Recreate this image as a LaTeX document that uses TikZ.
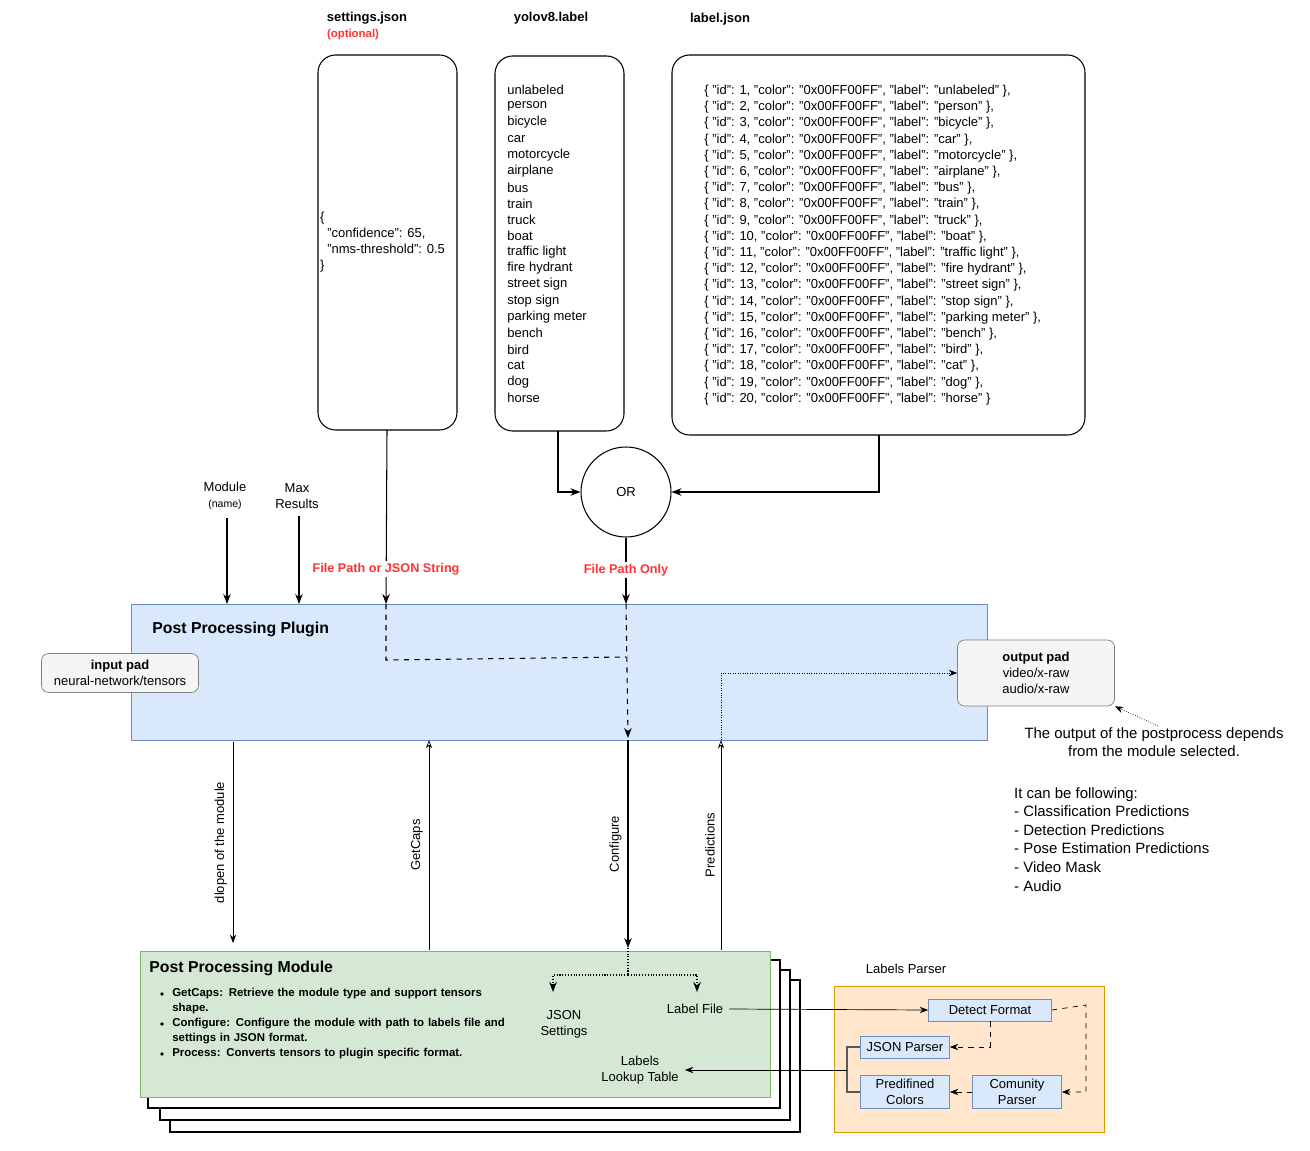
\documentclass[tikz,border=0pt]{standalone}
\usepackage{fontspec}
\setmainfont{Liberation Sans}
\usetikzlibrary{positioning, arrows.meta, backgrounds}

\definecolor{plugblue}{HTML}{DAE8FC}
\definecolor{plugedge}{HTML}{6C8EBF}
\definecolor{modgreen}{HTML}{D5E8D4}
\definecolor{modedge}{HTML}{82B366}
\definecolor{parsefill}{HTML}{FFE6CC}
\definecolor{parseedge}{HTML}{D79B00}
\definecolor{padfill}{HTML}{F5F5F5}
\definecolor{warnred}{HTML}{FF3333}

\begin{document}
\begin{tikzpicture}[x=0.02cm, y=-0.02cm, font=\fontsize{7.4}{9}\selectfont]
\tikzset{filebox/.style =
        {
            draw,
            rounded corners=10pt,
            semithick
        }
}

\tikzset{pad/.style =
        {
            draw=gray,
            fill=padfill,
            rounded corners=4pt,
            align=center,
            inner sep=0pt
        }
}

\tikzset{parser/.style =
        {
            draw=plugedge,
            fill=plugblue,
            align=center,
            inner sep=0pt
        }
}

\tikzset{flow/.style = {-Stealth, semithick}}
\tikzset{call/.style = {-{Stealth[open]}, thin}}
\tikzset{dotflow/.style = {-Stealth, densely dotted, semithick}}
\tikzset{dashflow/.style = {dashed, semithick}}
\tikzset{warn/.style = {text=warnred, font=\fontsize{7.2}{9}\selectfont\bfseries}}
\tikzset{title/.style = {font=\fontsize{7.4}{9}\selectfont\bfseries}}
\tikzset{bullet/.style = {anchor=north west, text width=6.9cm, align=left, inner sep=0pt,
        font=\fontsize{6.5}{8.4}\selectfont\bfseries}}

\useasboundingbox (0,0) rectangle (1310,1151);

% input files
\node[title] at (367,18) {settings.json};
\node[warn, font=\fontsize{6.5}{8}\selectfont\bfseries] at (353,35) {(optional)};
\node[title] at (551,18) {yolov8.label};
\node[title] at (720,19) {label.json};

\draw[filebox] (318,55) rectangle (457,430);
\draw[filebox] (495,56) rectangle (624,431);
\draw[filebox] (672,55) rectangle (1085,435);

\node[anchor=west, align=left, inner sep=1pt] (settings) at (318,242)
    {\{\\\ \ "confidence": 65,\\\ \ "nms-threshold": 0.5\\\}};

\foreach \name [count=\i] in {unlabeled, person, bicycle, car, motorcycle,
        airplane, bus, train, truck, boat, traffic light, fire hydrant,
        street sign, stop sign, parking meter, bench, bird, cat, dog}
    {
        \node[anchor=west, inner sep=0pt] at (507,74+16.2*\i) {\name};
        \node[anchor=west, inner sep=0pt] at (704,75+16.2*\i)
            {\{ "id": \i, "color": "0x00FF00FF", "label": "\name" \},};
    }
\node[anchor=west, inner sep=0pt] at (507,398) {horse};
\node[anchor=west, inner sep=0pt] at (704,399)
    {\{ "id": 20, "color": "0x00FF00FF", "label": "horse" \}};

\node[draw, circle, minimum size=1.8cm, semithick] (or) at (626,492) {OR};

\draw[flow] (558,431) |- (or.west);
\draw[flow] (879,435) |- (or.east);

% plugin
\node[draw=plugedge, fill=plugblue, minimum width=17.12cm, minimum height=2.72cm,
      inner sep=0pt] (plugin) at (559,672) {};
\node[anchor=west, inner sep=0pt, font=\fontsize{9}{11}\selectfont\bfseries] at (152,629)
    {Post Processing Plugin};

\node[pad, minimum width=3.14cm, minimum height=0.78cm] (inpad) at (120,673)
    {\textbf{input pad}\\neural-network/tensors};
\node[pad, minimum width=3.14cm, minimum height=1.32cm] (outpad) at (1036,673)
    {\textbf{output pad}\\video/x-raw\\audio/x-raw};

\node[align=center] (module) at (225,496)
    {Module\\{\fontsize{6}{7}\selectfont (name)}};
\node[align=center] (maxres) at (297,496) {Max\\Results};
\draw[flow] (227,518) -- (227,604);
\draw[flow] (299,516) -- (299,604);

\coordinate (setin) at (386,604);
\coordinate (orin) at (626,604);
\draw[flow] (387,430) -- (setin);
\draw[flow] (or.south) -- (orin);
\node[warn, fill=white, inner sep=1pt] at (386,569) {File Path or JSON String};
\node[warn, fill=white, inner sep=1pt] at (626,570) {File Path Only};

\draw[dashflow] (setin) -- (386,660) -- (626,657);
\draw[dashflow, -Stealth] (orin) -- (628,738);

% module stack
\draw[semithick, fill=white] (170,980) rectangle (800,1132);
\draw[semithick, fill=white] (160,970) rectangle (790,1120);
\draw[semithick, fill=white] (148,960) rectangle (780,1108);
\node[draw=modedge, fill=modgreen, minimum width=12.6cm, minimum height=2.92cm,
      inner sep=0pt] (ppm) at (455,1024) {};
\node[anchor=west, inner sep=0pt, font=\fontsize{9}{11}\selectfont\bfseries] at (149,968)
    {Post Processing Module};
\foreach \y / \txt in
    {988/GetCaps: Retrieve the module type and support tensors shape.,
     1018/Configure: Configure the module with path to labels file and settings in JSON format.,
     1048/Process: Converts tensors to plugin specific format.}
    {
        \fill (162,\y+6) circle [radius=1.8];
        \node[bullet] at (172,\y) {\txt};
    }

\node[align=center] (jsonset) at (564,1024) {JSON\\Settings};
\node (labelfile) at (695,1009) {Label File};
\node[align=center] (lookup) at (640,1070) {Labels\\Lookup Table};

% plugin <-> module
\draw[-Stealth, thin] (233,742) -- (233,943)
    node[midway, rotate=90, anchor=south] {dlopen of the module};
\draw[call] (429,950) -- (429,740)
    node[midway, rotate=90, anchor=south] {GetCaps};
\draw[flow] (628,740) -- (628,948)
    node[midway, rotate=90, anchor=south] {Configure};
\draw[call] (721,950) -- (721,740)
    node[midway, rotate=90, anchor=south] {Predictions};
\draw[dotflow, thin] (721,740) |- (outpad.west);

\draw[densely dotted, semithick] (628,948) -- (628,975);
\draw[dotflow] (628,975) -| (553,992);
\draw[dotflow] (628,975) -| (697,992);

% output note
\node[align=center, font=\fontsize{8.5}{10}\selectfont] (note) at (1154,742)
    {The output of the postprocess depends\\from the module selected.};
\draw[dotflow, thin] (1158,726) -- (outpad.south east);
\node[anchor=north west, align=left, font=\fontsize{8.5}{10.6}\selectfont] at (1008,781)
    {It can be following:\\- Classification Predictions\\- Detection Predictions\\
     - Pose Estimation Predictions\\- Video Mask\\- Audio};

% labels parser
\node at (906,969) {Labels Parser};
\draw[draw=parseedge, fill=parsefill] (834,986) rectangle (1104,1132);
\node[parser, minimum width=2.46cm, minimum height=0.44cm] (detect) at (990,1010) {Detect Format};
\node[parser, minimum width=1.78cm, minimum height=0.44cm] (jsonp) at (905,1047) {JSON Parser};
\node[parser, minimum width=1.78cm, minimum height=0.66cm] (predef) at (905,1092) {Predifined\\Colors};
\node[parser, minimum width=1.78cm, minimum height=0.66cm] (comun) at (1017,1092) {Comunity\\Parser};

\draw[flow, thin] (labelfile.east) -- (detect.west);
\draw[dotflow, thin, dashed] (detect.south) |- (jsonp.east);
\draw[dotflow, thin, dashed] (detect.east) -- (1086,1005) |- (comun.east);
\draw[dotflow, thin, dashed] (comun.west) -- (predef.east);
\draw[semithick, gray!70!black] (jsonp.west) -- (847,1047) |- (predef.west);
\draw[flow, thin] (847,1070) -- (lookup.east);
\end{tikzpicture}
\end{document}
